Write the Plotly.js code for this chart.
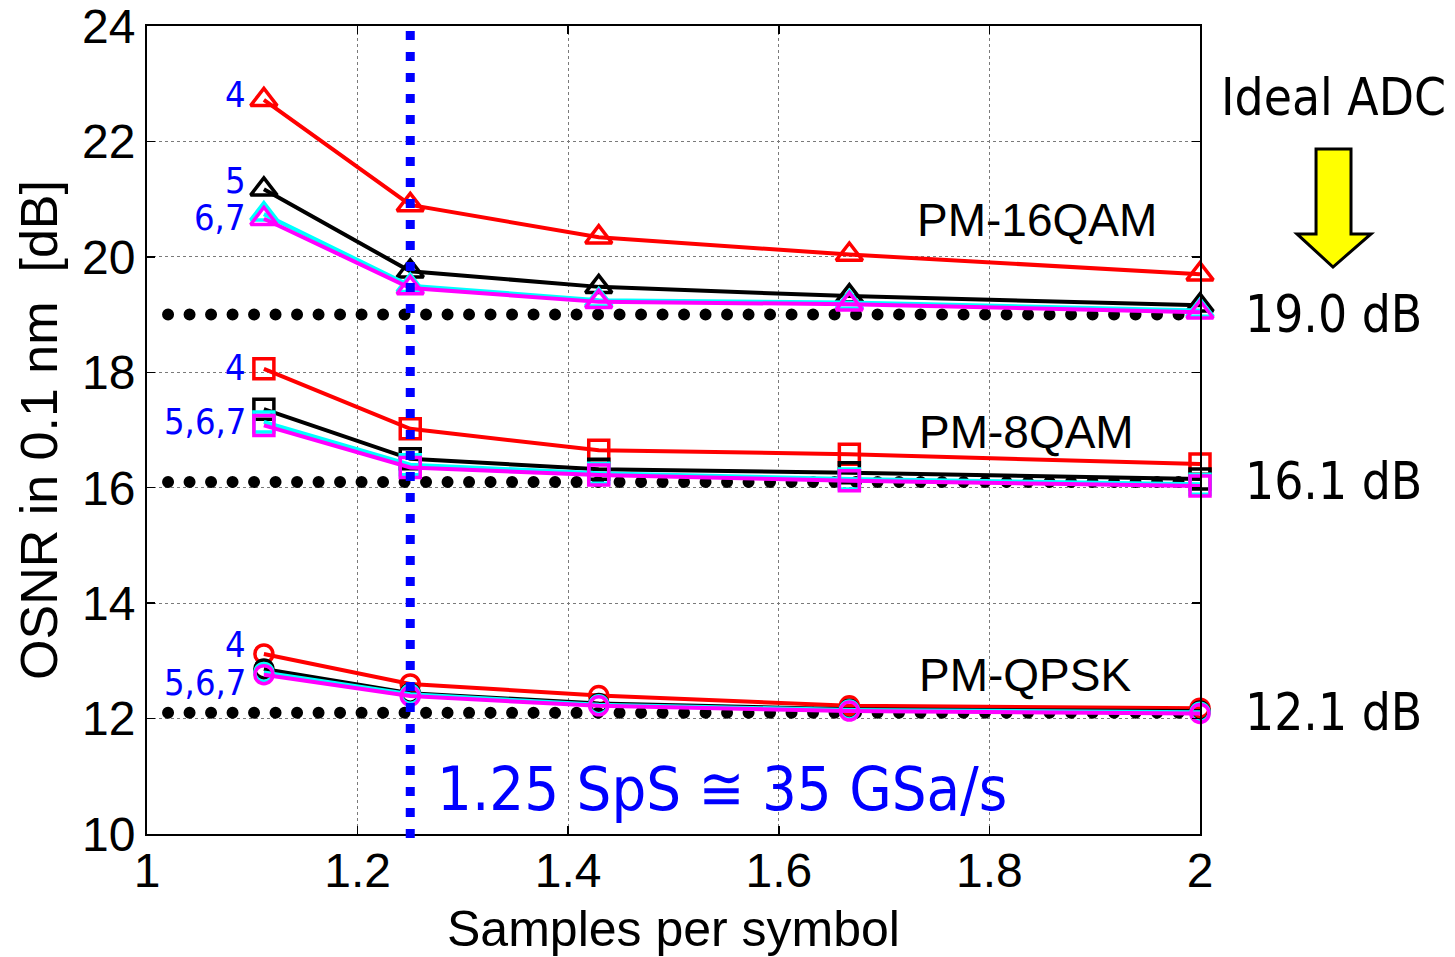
<!DOCTYPE html>
<html>
<head>
<meta charset="utf-8">
<script src="https://cdn.plot.ly/plotly-3.0.1.min.js"></script>
<style>
  html, body { margin: 0; padding: 0; background: #fff; }
  #chart { width: 1455px; height: 957px; }
  /* round caps turn the zero-length dashes of the reference lines into dots */
  .scatterlayer .trace:nth-child(-n+3) path.js-line { stroke-linecap: round; }
</style>
</head>
<body>
<div id="chart"></div>
<script>
// Samples per symbol at which the ADC was evaluated
const sps = [1.111, 1.25, 1.429, 1.667, 2.0];

// Required OSNR [dB] per ENOB setting (4, 5, 6, 7 bits)
const qam16_enob4 = [22.72, 20.90, 20.34, 20.04, 19.70];
const qam16_enob5 = [21.17, 19.75, 19.48, 19.32, 19.16];
const qam16_enob6 = [20.74, 19.50, 19.25, 19.21, 19.07];
const qam16_enob7 = [20.66, 19.46, 19.22, 19.18, 19.04];

const qam8_enob4 = [18.06, 17.02, 16.65, 16.58, 16.41];
const qam8_enob5 = [17.36, 16.50, 16.32, 16.26, 16.15];
const qam8_enob6 = [17.14, 16.40, 16.25, 16.15, 16.06];
const qam8_enob7 = [17.08, 16.35, 16.22, 16.12, 16.03];

const qpsk_enob4 = [13.12, 12.60, 12.40, 12.22, 12.18];
const qpsk_enob5 = [12.86, 12.44, 12.26, 12.16, 12.13];
const qpsk_enob6 = [12.80, 12.42, 12.24, 12.15, 12.11];
const qpsk_enob7 = [12.76, 12.39, 12.22, 12.13, 12.09];

// Ideal-ADC reference OSNR [dB] per format
const formats = ['PM-16QAM', 'PM-8QAM', 'PM-QPSK'];
const idealOsnr = [19.0, 16.1, 12.1];
const refSpan = [1.02, 2.0];

// Operating point marked by the vertical line
const chosenSps = 1.25;

// Axis ticks
const xTicks = [1, 1.2, 1.4, 1.6, 1.8, 2];
const xTickText = ['1', '1.2', '1.4', '1.6', '1.8', '2'];
const yTicks = [10, 12, 14, 16, 18, 20, 22, 24];

const enobColors = ['#ff0000', '#000000', '#00ffff', '#ff00ff'];
const sets = [
  { symbol: 'triangle-up-open', size: 23, series: [qam16_enob4, qam16_enob5, qam16_enob6, qam16_enob7] },
  { symbol: 'square-open', size: 20, series: [qam8_enob4, qam8_enob5, qam8_enob6, qam8_enob7] },
  { symbol: 'circle-open', size: 18, series: [qpsk_enob4, qpsk_enob5, qpsk_enob6, qpsk_enob7] }
];

const traces = [];

// Dotted ideal-ADC reference lines (drawn first, underneath the curves)
idealOsnr.forEach(v => {
  traces.push({
    x: refSpan, y: [v, v], mode: 'lines', hoverinfo: 'skip', showlegend: false,
    line: { color: '#000', width: 12, dash: '0px,21.5px' }
  });
});

sets.forEach(set => {
  set.series.forEach((ys, i) => {
    traces.push({
      x: sps, y: ys, mode: 'lines+markers', showlegend: false, cliponaxis: false,
      line: { color: enobColors[i], width: 4 },
      marker: { symbol: set.symbol, size: set.size, color: enobColors[i],
                line: { color: enobColors[i], width: 3.5 } }
    });
  });
});

// Pixel helpers for items placed outside the plotting area
const L = 147, T = 26, W = 1053, H = 808;
const fx = px => (px - L) / W;
const fy = py => (T + H - py) / H;

const arrowPts = [[1316,149],[1351,149],[1351,234],[1371,234],[1333,267],[1297,234],[1316,234]];
const arrowPath = 'M' + arrowPts.map(p => fx(p[0]).toFixed(4) + ',' + fy(p[1]).toFixed(4)).join(' L') + ' Z';

const shapes = [
  { type: 'line', xref: 'x', yref: 'paper', x0: chosenSps, x1: chosenSps, y0: -0.005, y1: 1,
    line: { color: '#0000ff', width: 9, dash: '9px,12px' }, layer: 'above' },
  { type: 'path', xref: 'paper', yref: 'paper', path: arrowPath,
    fillcolor: '#ffff00', line: { color: '#000', width: 3 }, layer: 'above' }
];

const labelFont = { family: 'DejaVu Sans Condensed, DejaVu Sans', size: 36, color: '#0000ff' };
const sideFont = { family: 'DejaVu Sans Condensed, DejaVu Sans', size: 51, color: '#000' };
const fmtFont = { family: 'Liberation Sans, Arial', size: 46, color: '#000' };

function enobLabel(text, y) {
  return { x: sps[0], y: y, xref: 'x', yref: 'y', text: text, showarrow: false,
           xanchor: 'right', yanchor: 'middle', xshift: -16, font: labelFont };
}

const annotations = [
  enobLabel('4', 22.81), enobLabel('5', 21.32), enobLabel('6,7', 20.68),
  enobLabel('4', 18.08), enobLabel('5,6,7', 17.14),
  enobLabel('4', 13.28), enobLabel('5,6,7', 12.62),
  { x: 1.845, y: 20.64, xref: 'x', yref: 'y', text: formats[0], showarrow: false, font: fmtFont },
  { x: 1.835, y: 16.97, xref: 'x', yref: 'y', text: formats[1], showarrow: false, font: fmtFont },
  { x: 1.834, y: 12.76, xref: 'x', yref: 'y', text: formats[2], showarrow: false, font: fmtFont },
  { x: fx(1333), y: fy(98), xref: 'paper', yref: 'paper', text: 'Ideal ADC', showarrow: false,
    xanchor: 'center', yanchor: 'middle', font: sideFont },
  { x: 1.546, y: 10.78, xref: 'x', yref: 'y', text: chosenSps + ' SpS \u2245 35 GSa/s', showarrow: false,
    xanchor: 'center', yanchor: 'middle',
    font: { family: 'DejaVu Sans Condensed, DejaVu Sans', size: 61, color: '#0000ff' } }
];
idealOsnr.forEach(v => {
  annotations.push({ x: fx(1333), xref: 'paper', y: v, yref: 'y', text: v.toFixed(1) + ' dB',
                     xanchor: 'center', yanchor: 'middle', showarrow: false, font: sideFont });
});

const tickFont = { family: 'Liberation Sans, Arial', size: 48, color: '#000' };
const axisCommon = {
  showgrid: true, gridcolor: '#7a7a7a', gridwidth: 1, griddash: 'dot',
  zeroline: false, showline: true, linecolor: '#000', linewidth: 2, mirror: 'allticks',
  ticks: 'inside', ticklen: 8, tickwidth: 1.5, tickcolor: '#000', tickfont: tickFont,
  ticklabeloverflow: 'allow'
};

const layout = {
  width: 1455, height: 957,
  margin: { l: L, r: 1455 - L - W, t: T, b: 957 - T - H },
  paper_bgcolor: '#fff', plot_bgcolor: '#fff',
  showlegend: false,
  xaxis: Object.assign({}, axisCommon, {
    range: [1, 2], tickmode: 'array', tickvals: xTicks, ticktext: xTickText,
    ticklabelstandoff: -7,
    title: { text: 'Samples per symbol', standoff: 18,
             font: { family: 'Liberation Sans, Arial', size: 50, color: '#000' } }
  }),
  yaxis: Object.assign({}, axisCommon, {
    range: [10, 24], tickmode: 'array', tickvals: yTicks,
    ticklabelstandoff: 0,
    title: { text: 'OSNR in 0.1 nm\u00a0 [dB]', standoff: 8,
             font: { family: 'Liberation Sans, Arial', size: 52, color: '#000' } }
  }),
  shapes: shapes,
  annotations: annotations
};

Plotly.newPlot('chart', traces, layout, { displayModeBar: false, staticPlot: true });
</script>
</body>
</html>
